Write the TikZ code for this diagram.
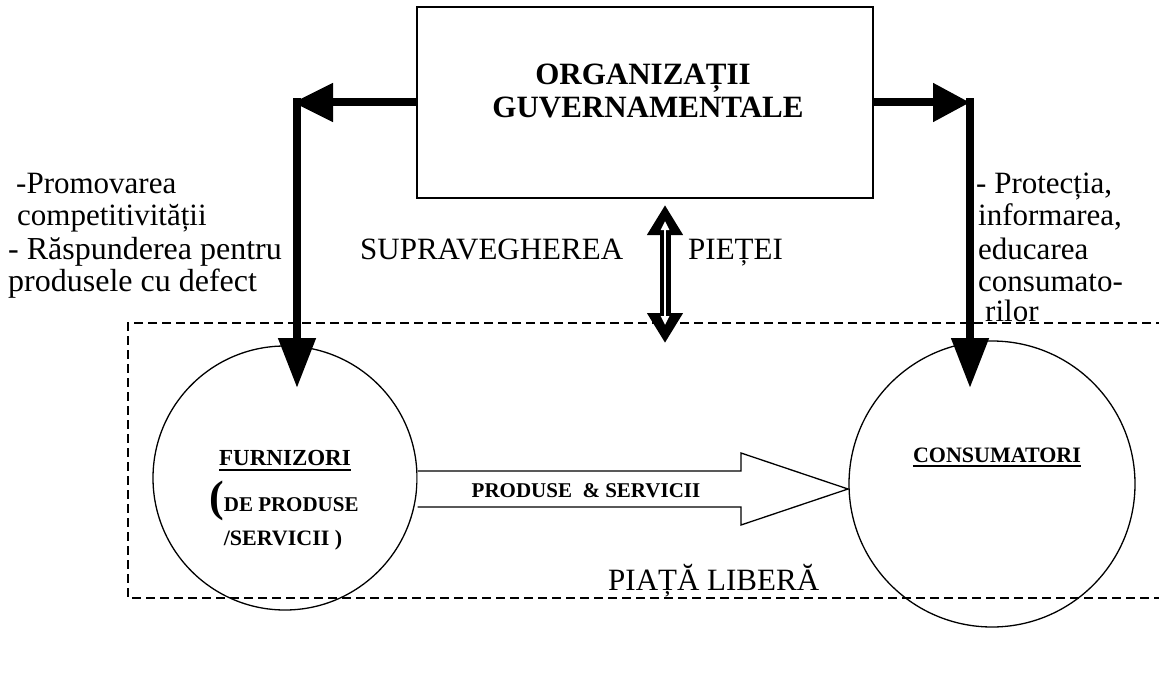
\documentclass[tikz,border=0pt]{standalone}
\usepackage{fontspec}
\setmainfont{Liberation Serif}
\usetikzlibrary{arrows.meta,calc}
\begin{document}
\begin{tikzpicture}[x=1pt,y=-1pt,
  txt/.style={inner sep=0pt, anchor=base west, font=\fontsize{31}{36}\selectfont},
  ttl/.style={inner sep=0pt, anchor=base, font=\fontsize{31}{33}\selectfont\bfseries},
  lbl/.style={inner sep=0pt, anchor=base, font=\fontsize{22}{26}\selectfont\bfseries},
  thk/.style={line width=8pt},
  ring/.style={draw, circle, line width=1.3pt, inner sep=0pt},
  uline/.style={line width=1.8pt}
]
\useasboundingbox (0,0) rectangle (1159,682);
% free market dashed frame
\draw[line width=1.2pt, dash pattern=on 9pt off 5pt] (1165,323) -- (128,323) -- (128,598) -- (1165,598);
% government box
\node[draw, line width=1.5pt, minimum width=456pt, minimum height=191pt, inner sep=0pt] (gov) at (645,102.5) {};
\node[ttl] (t1) at (643,85) {ORGANIZAȚII};
\node[ttl] (t2) at (648,118) {GUVERNAMENTALE};
% circles
\node[ring, minimum size=264pt] (furn) at (285,478) {};
\node[ring, minimum size=286pt] (cons) at (992,484) {};
% thick arrows from box
\coordinate (lc) at (297,98.5);
\coordinate (ltip) at (297,388);
\coordinate (rc) at (970,98.5);
\coordinate (rtip) at (970,388);
\draw[thk, -{Triangle[length=40pt,width=37pt]}] (gov.west) -- (293,102.5);
\draw[thk, -{Triangle[length=50pt,width=36pt]}] (lc) -- (ltip);
\draw[thk, -{Triangle[length=37pt,width=37pt]}] (gov.east) -- (rc |- gov.east);
\draw[thk, -{Triangle[length=50pt,width=36pt]}] (rc) -- (rtip);
% double arrow (market supervision)
\coordinate (dtop) at (665,205);
\coordinate (dbot) at (665,343);
\draw[line width=11pt, {Triangle[length=30pt,width=34pt]}-{Triangle[length=30pt,width=34pt]}] (dtop) -- (dbot);
\draw[white, line width=2.5pt, {Triangle[length=9pt,width=8pt]}-{Triangle[length=9pt,width=8pt]}] ($(dtop)+(0,16)$) -- ($(dbot)+(0,-18)$);
% block arrow products & services
\draw[line width=1.3pt, fill=white] (furn.east |- 0,471) -- (741,471) -- (741,453) -- (848,489) -- (741,525) -- (741,507) -- (furn.east |- 0,507);
\node[lbl, font=\fontsize{21}{24}\selectfont\bfseries] (ps) at (586,497) {PRODUSE\ \ \& SERVICII};
% circle labels
\node[lbl, font=\fontsize{23}{26}\selectfont\bfseries] (fn) at (285,465) {FURNIZORI};
\draw[uline] ($(fn.base west)+(0,5)$) -- ($(fn.base east)+(0,5)$);
\node[inner sep=0pt, anchor=base west, font=\bfseries] (dp) at (209,511) {{\fontsize{44}{44}\selectfont(}{\fontsize{21}{24}\selectfont DE PRODUSE}};
\node[lbl] (sv) at (283,545) {/SERVICII )};
\node[lbl] (cn) at (997,462) {CONSUMATORI};
\draw[uline] ($(cn.base west)+(0,4)$) -- ($(cn.base east)+(0,4)$);
% side texts
\node[txt] (l1) at (16,193) {-Promovarea};
\node[txt] (l2) at (17,225) {competitivității};
\node[txt, font=\fontsize{32}{36}\selectfont] (l3) at (8,259) {- Răspunderea pentru};
\node[txt, font=\fontsize{32}{36}\selectfont] (l4) at (8,291) {produsele cu defect};
\node[txt] (r1) at (976,193) {- Protecția,};
\node[txt] (r2) at (978,225) {informarea,};
\node[txt] (r3) at (978,259) {educarea};
\node[txt] (r4) at (978,291) {consumato-};
\node[txt] (r5) at (985,321) {rilor};
\node[txt] (sup) at (360,259) {SUPRAVEGHEREA};
\node[txt] (pie) at (688,259) {PIEȚEI};
\node[txt] (pl) at (608,590) {PIAȚĂ LIBERĂ};
\end{tikzpicture}
\end{document}
